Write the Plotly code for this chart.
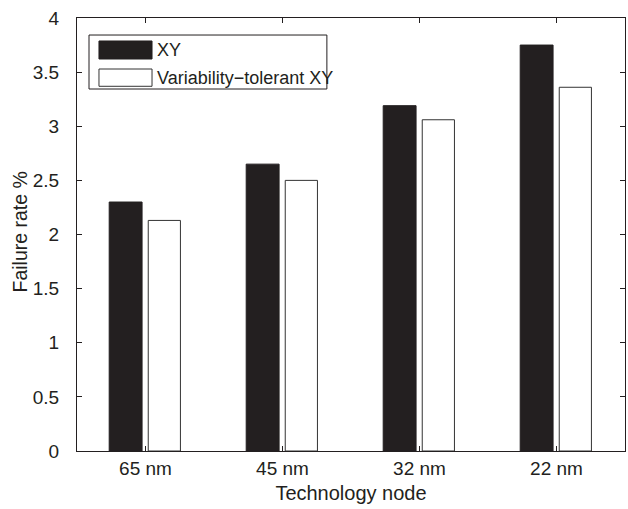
import plotly.graph_objects as go

categories = ["65 nm", "45 nm", "32 nm", "22 nm"]
xy_values = [2.30, 2.65, 3.19, 3.75]
vt_values = [2.13, 2.50, 3.06, 3.36]
series_names = ["XY", "Variability\u2212tolerant XY"]
y_ticks = [0, 0.5, 1, 1.5, 2, 2.5, 3, 3.5, 4]
y_ticktext = ["0", "0.5", "1", "1.5", "2", "2.5", "3", "3.5", "4"]
x_title = "Technology node"
y_title = "Failure rate %"

xpos = list(range(1, len(categories) + 1))
FONT = "Liberation Sans, Arial, sans-serif"
DARK = "#231f20"

fig = go.Figure()
fig.add_trace(go.Bar(x=xpos, y=xy_values, name=series_names[0], width=0.24, offset=-0.265,
                     marker=dict(color=DARK, line=dict(color=DARK, width=1)), showlegend=False))
fig.add_trace(go.Bar(x=xpos, y=vt_values, name=series_names[1], width=0.235, offset=0.02,
                     marker=dict(color="white", line=dict(color="#333333", width=1)), showlegend=False))

# legend drawn as decoration in paper coordinates
shapes = [
    dict(type="rect", xref="paper", yref="paper", x0=0.0219, x1=0.456, y0=0.836, y1=0.9607,
         line=dict(color=DARK, width=1), fillcolor="white"),
    dict(type="rect", xref="paper", yref="paper", x0=0.0401, x1=0.1369, y0=0.9053, y1=0.9469,
         line=dict(color=DARK, width=1), fillcolor=DARK),
    dict(type="rect", xref="paper", yref="paper", x0=0.0401, x1=0.1369, y0=0.8423, y1=0.8822,
         line=dict(color="#333333", width=1), fillcolor="white"),
]
annotations = [
    dict(xref="paper", yref="paper", x=0.1465, y=0.9261, text=series_names[0], showarrow=False,
         xanchor="left", yanchor="middle", xshift=-2, font=dict(family=FONT, size=18, color=DARK)),
    dict(xref="paper", yref="paper", x=0.1465, y=0.8622, text=series_names[1], showarrow=False,
         xanchor="left", yanchor="middle", xshift=-2, font=dict(family=FONT, size=18, color=DARK)),
    dict(xref="paper", yref="paper", x=-0.1040, y=0.5046, text=y_title, showarrow=False,
         textangle=-90, xanchor="center", yanchor="middle", font=dict(family=FONT, size=19.5, color=DARK)),
]

fig.update_layout(
    width=628, height=509,
    margin=dict(l=77, r=3, t=18, b=58),
    paper_bgcolor="white", plot_bgcolor="white",
    font=dict(family=FONT, size=19, color=DARK),
    barmode="overlay",
    shapes=shapes, annotations=annotations,
)
fig.update_xaxes(range=[0.5, 4.5], tickvals=xpos, ticktext=categories,
                 showline=True, linecolor=DARK, linewidth=1, mirror="allticks",
                 ticks="inside", ticklen=5, tickcolor=DARK, showgrid=False, zeroline=False,
                 tickfont=dict(size=19), ticklabelstandoff=0,
                 title=dict(text=x_title, font=dict(size=20), standoff=8))
fig.update_yaxes(range=[0, 4], tickvals=y_ticks, ticktext=y_ticktext,
                 showline=True, linecolor=DARK, linewidth=1, mirror="allticks",
                 ticks="inside", ticklen=5, tickcolor=DARK, showgrid=False, zeroline=False,
                 tickfont=dict(size=19), ticklabelstandoff=13)

fig.write_html("out.html")
